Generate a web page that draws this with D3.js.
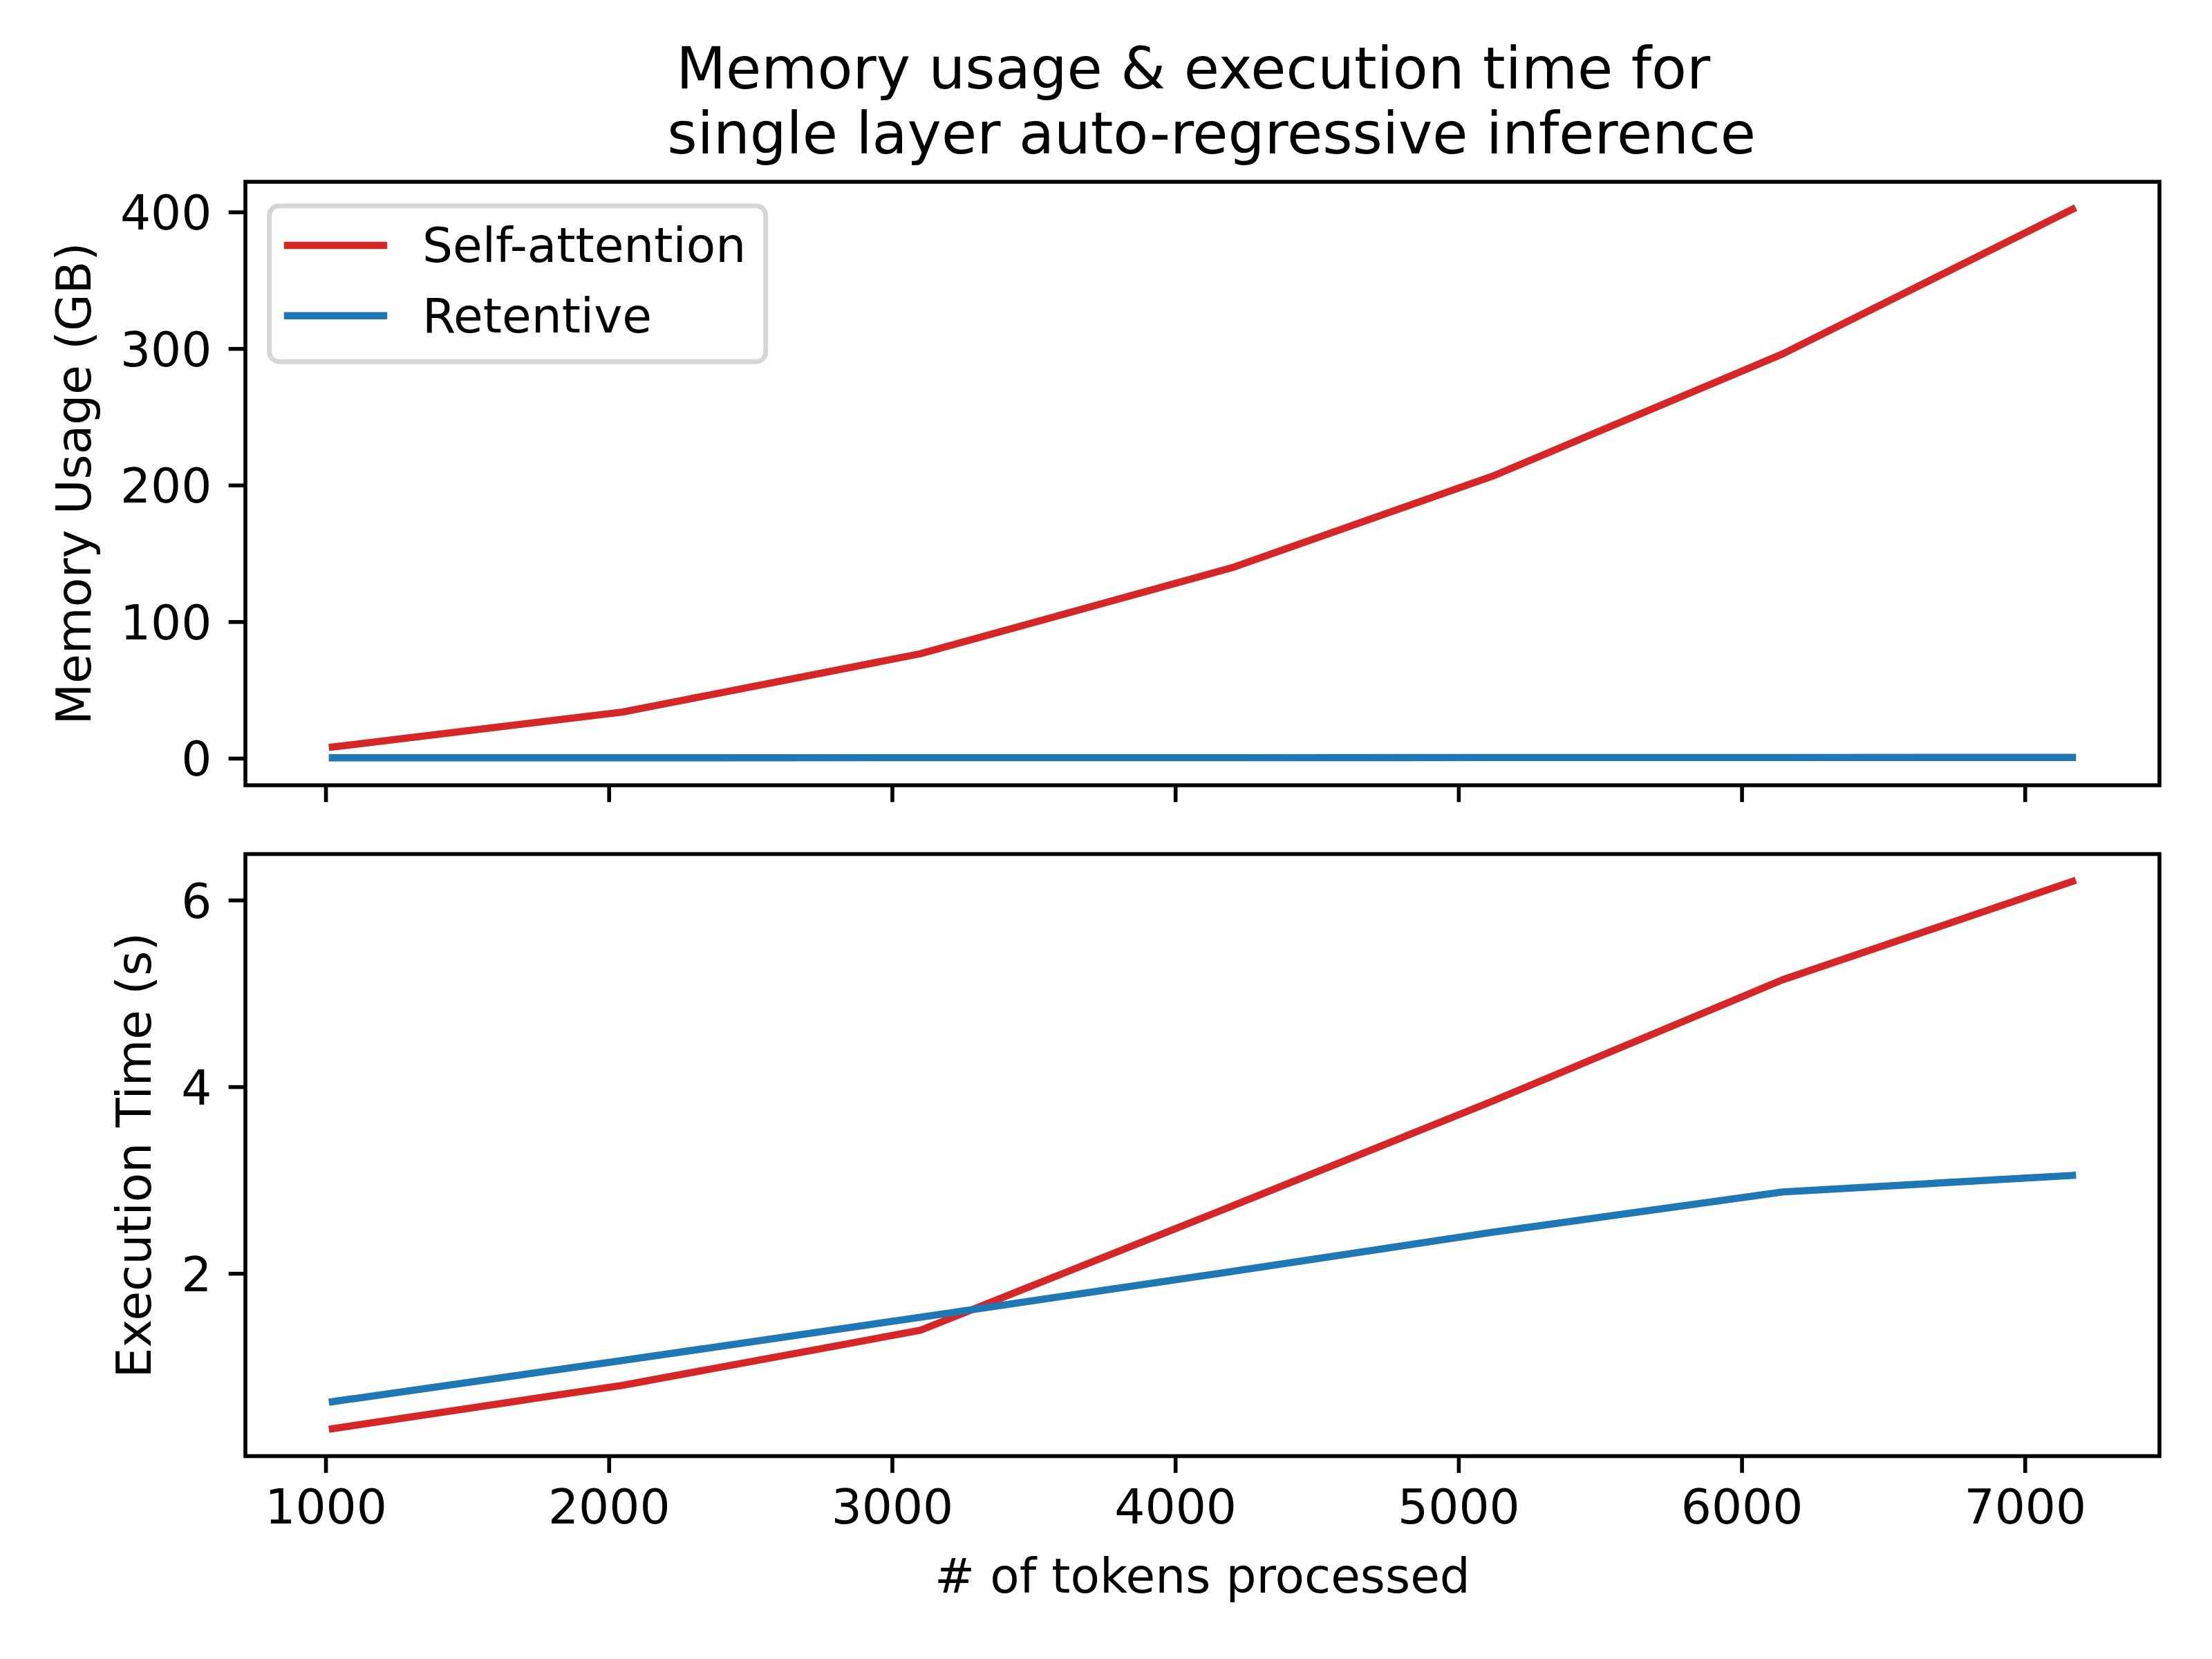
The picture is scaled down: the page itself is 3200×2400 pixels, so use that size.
<!DOCTYPE html>
<html lang="en">
<head>
  <meta charset="UTF-8" />
  <title>Memory usage & execution time</title>
  <script src="https://cdn.jsdelivr.net/npm/d3@7"></script>
  <style>
    body { margin: 0; background: #fff; }
    text { font-family: "DejaVu Sans", sans-serif; fill: #000; }
  </style>
</head>
<body>
<script>
  // values
  var tokens = [1024, 2048, 3100, 4200, 5120, 6144, 7168];
  var memSelf = [8.2, 33.8, 76.5, 139.5, 206.5, 296, 402];
  var memRet = [0.3, 0.3, 0.4, 0.4, 0.5, 0.5, 0.6];
  var timeSelf = [0.335, 0.8, 1.39, 2.72, 3.845, 5.145, 6.2];
  var timeRet = [0.625, 1.066, 1.53, 2.02, 2.44, 2.872, 3.05];

  var xTicks = [1000, 2000, 3000, 4000, 5000, 6000, 7000];
  var memTicks = [0, 100, 200, 300, 400];
  var timeTicks = [2, 4, 6];
  var seriesNames = ["Self-attention", "Retentive"];
  var colors = ["#d62728", "#1f77b4"];

  var W = 3200, H = 2400;
  var left = 355, right = 3124;
  var fs = 69.4;          // 10pt at 500 dpi
  var tick = 24.3, pad = 24.3;
  var spineW = 5.6, lineW = 10.4;

  var panels = [
    { top: 263, bottom: 1136, series: [memSelf, memRet], ticks: memTicks,
      label: "Memory Usage (GB)", labelX: 131, showX: false },
    { top: 1235.5, bottom: 2106.5, series: [timeSelf, timeRet], ticks: timeTicks,
      label: "Execution Time (s)", labelX: 218, showX: true }
  ];

  function padded(ext) {
    var m = (ext[1] - ext[0]) * 0.05;
    return [ext[0] - m, ext[1] + m];
  }

  var svg = d3.select("body").append("svg")
    .attr("width", W).attr("height", H);

  svg.append("rect").attr("width", W).attr("height", H).attr("fill", "#fff");

  var xScale = d3.scaleLinear()
    .domain(padded(d3.extent(tokens)))
    .range([left, right]);

  panels.forEach(function(p, pi) {
    var all = p.series[0].concat(p.series[1]);
    var yScale = d3.scaleLinear()
      .domain(padded(d3.extent(all)))
      .range([p.bottom, p.top]);

    svg.append("clipPath").attr("id", "clip" + pi)
      .append("rect")
      .attr("x", left).attr("y", p.top)
      .attr("width", right - left).attr("height", p.bottom - p.top);

    var line = d3.line()
      .x(function(d, i) { return xScale(tokens[i]); })
      .y(function(d) { return yScale(d); });

    p.series.forEach(function(s, si) {
      svg.append("path")
        .datum(s)
        .attr("d", line)
        .attr("fill", "none")
        .attr("stroke", colors[si])
        .attr("stroke-width", lineW)
        .attr("stroke-linecap", "square")
        .attr("stroke-linejoin", "round")
        .attr("clip-path", "url(#clip" + pi + ")");
    });

    // y axis
    var yAxis = svg.append("g")
      .attr("transform", "translate(" + left + ",0)")
      .call(d3.axisLeft(yScale).tickValues(p.ticks).tickSize(tick).tickPadding(pad)
        .tickFormat(d3.format("d")));

    // x axis
    var xAxis = svg.append("g")
      .attr("transform", "translate(0," + p.bottom + ")")
      .call(d3.axisBottom(xScale).tickValues(xTicks).tickSize(tick).tickPadding(pad)
        .tickFormat(p.showX ? d3.format("d") : function() { return ""; }));

    [yAxis, xAxis].forEach(function(g) {
      g.select(".domain").remove();
      g.selectAll(".tick line").attr("stroke", "#000").attr("stroke-width", spineW);
      g.selectAll(".tick text")
        .attr("font-family", "DejaVu Sans")
        .attr("font-size", fs)
        .attr("fill", "#000");
    });
    yAxis.selectAll(".tick text").attr("dy", "0.36em");

    // frame
    svg.append("rect")
      .attr("x", left).attr("y", p.top)
      .attr("width", right - left).attr("height", p.bottom - p.top)
      .attr("fill", "none")
      .attr("stroke", "#000")
      .attr("stroke-width", spineW);

    svg.append("text")
      .attr("transform", "translate(" + p.labelX + "," + ((p.top + p.bottom) / 2) + ") rotate(-90)")
      .attr("text-anchor", "middle")
      .attr("font-size", fs)
      .text(p.label);
  });

  // legend
  var lg = svg.append("g");
  lg.append("rect")
    .attr("x", 389.7).attr("y", 297.7)
    .attr("width", 718).attr("height", 225.5)
    .attr("rx", 13.9).attr("ry", 13.9)
    .attr("fill", "rgba(255,255,255,0.8)")
    .attr("stroke", "#d6d6d6")
    .attr("stroke-width", 6.9);

  seriesNames.forEach(function(name, i) {
    var yy = 355 + i * 101.7;
    lg.append("line")
      .attr("x1", 416).attr("x2", 555)
      .attr("y1", yy).attr("y2", yy)
      .attr("stroke", colors[i])
      .attr("stroke-width", lineW)
      .attr("stroke-linecap", "square");
    lg.append("text")
      .attr("x", 611).attr("y", yy + 24)
      .attr("font-size", fs)
      .text(name);
  });

  // x label
  svg.append("text")
    .attr("x", (left + right) / 2).attr("y", 2304)
    .attr("text-anchor", "middle")
    .attr("font-size", fs)
    .text("# of tokens processed");

  // title (matplotlib keeps the trailing/leading spaces)
  var title = svg.append("text")
    .attr("text-anchor", "middle")
    .attr("font-size", 83.3)
    .style("white-space", "pre");
  title.append("tspan").attr("x", (left + right) / 2).attr("y", 128)
    .text("Memory usage & execution time for ");
  title.append("tspan").attr("x", (left + right) / 2).attr("y", 222)
    .text(" single layer auto-regressive inference");
</script>
</body>
</html>
